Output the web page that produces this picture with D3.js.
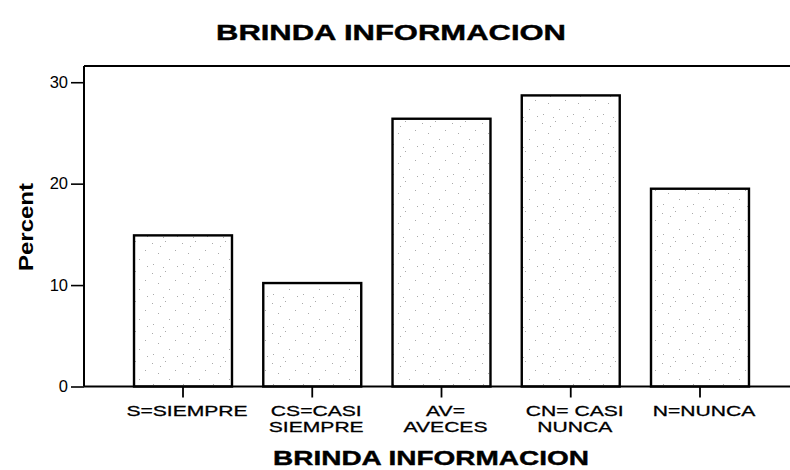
<!DOCTYPE html>
<html>
<head>
<meta charset="utf-8">
<script src="https://cdn.jsdelivr.net/npm/d3@7"></script>
<style>
  html, body { margin: 0; padding: 0; background: #fff; }
  svg { display: block; font-family: "Liberation Sans", Arial, sans-serif; }
</style>
</head>
<body>
<svg id="chart" width="790" height="470"></svg>
<script>
const categories = [["S=SIEMPRE"], ["CS=CASI", "SIEMPRE"], ["AV=", "AVECES"], ["CN= CASI", "NUNCA"], ["N=NUNCA"]];
const percents = [14.9, 10.2, 26.4, 28.7, 19.5];
const yTicks = [0, 10, 20, 30];
const titleText = "BRINDA INFORMACION";
const xTitleText = "BRINDA INFORMACION";
const yTitleText = "Percent";

(function () {
const svg = d3.select("#chart");
const pLeft = 84, pTop = 66, pBottom = 386.5, pRight = 799;

// dotted fill pattern
const defs = svg.append("defs");
const pat = defs.append("pattern").attr("id", "dots").attr("patternUnits", "userSpaceOnUse")
  .attr("width", 30).attr("height", 30);
pat.append("rect").attr("width", 30).attr("height", 30).attr("fill", "#fff");
[[2,3],[15,1],[25,10],[8,13],[19,19],[3,24],[13,27],[27,26],[10,6]].forEach(([px,py]) =>
  pat.append("rect").attr("x", px).attr("y", py).attr("width", 1).attr("height", 1).attr("fill", "#aaaaaa"));

const x = d3.scaleBand().domain(d3.range(categories.length)).range([pLeft, pRight])
  .paddingInner(0.242).paddingOuter(0.387);
const y = d3.scaleLinear().domain([0, 31.6]).range([pBottom, pTop]);

// bars
svg.append("g").selectAll("rect").data(percents).join("rect")
  .attr("x", (d, i) => x(i)).attr("y", d => y(d))
  .attr("width", x.bandwidth()).attr("height", d => y(0) - y(d))
  .attr("fill", "url(#dots)").attr("stroke", "#000").attr("stroke-width", 2.4);

// frame: top and left lines
svg.append("line").attr("x1", pLeft).attr("x2", 790).attr("y1", pTop).attr("y2", pTop)
  .attr("stroke", "#000").attr("stroke-width", 2);
svg.append("line").attr("x1", pLeft).attr("x2", pLeft).attr("y1", pTop).attr("y2", pBottom)
  .attr("stroke", "#000").attr("stroke-width", 2);

// y axis
const yAxis = svg.append("g").attr("transform", `translate(${pLeft},0)`)
  .call(d3.axisLeft(y).tickValues(yTicks).tickSize(13).tickPadding(3).tickFormat(d3.format("d")));
yAxis.select(".domain").remove();
yAxis.selectAll("line").attr("stroke", "#000").attr("stroke-width", 1.6);
yAxis.selectAll("text").attr("font-size", 16.5).attr("fill", "#000")
  .attr("font-family", "Liberation Sans, Arial, sans-serif");

// x axis
const xAxis = svg.append("g").attr("transform", `translate(0,${pBottom})`)
  .call(d3.axisBottom(x).tickSize(11).tickFormat(""));
xAxis.select(".domain").remove();
xAxis.selectAll("line").attr("stroke", "#000").attr("stroke-width", 1.8);
svg.append("line").attr("x1", pLeft).attr("x2", 790).attr("y1", pBottom).attr("y2", pBottom)
  .attr("stroke", "#000").attr("stroke-width", 2);

// x tick labels (wrapped)
const lbl = svg.append("g").selectAll("g").data(categories).join("g")
  .attr("transform", (d, i) => `translate(${x(i) + x.bandwidth() / 2 + 4},416) scale(1.36,1)`);
lbl.selectAll("text").data(d => d).join("text")
  .attr("x", 0).attr("y", (d, j) => j * 16.5)
  .attr("text-anchor", "middle").attr("font-size", 15.5).attr("fill", "#000")
  .attr("stroke", "#000").attr("stroke-width", 0.3)
  .text(d => d);

// titles
svg.append("text").attr("x", 391).attr("y", 40).attr("text-anchor", "middle")
  .attr("font-size", 22).attr("font-weight", "bold").attr("fill", "#000")
  .attr("stroke", "#000").attr("stroke-width", 0.4)
  .attr("textLength", 350).attr("lengthAdjust", "spacingAndGlyphs").text(titleText);
svg.append("text").attr("x", 431).attr("y", 465).attr("text-anchor", "middle")
  .attr("font-size", 20).attr("font-weight", "bold").attr("fill", "#000")
  .attr("stroke", "#000").attr("stroke-width", 0.4)
  .attr("textLength", 316).attr("lengthAdjust", "spacingAndGlyphs").text(xTitleText);
svg.append("text").attr("transform", "translate(33,227) rotate(-90)").attr("text-anchor", "middle")
  .attr("font-size", 20).attr("font-weight", "bold").attr("fill", "#000")
  .attr("textLength", 88).attr("lengthAdjust", "spacingAndGlyphs").text(yTitleText);
})();
</script>
</body>
</html>
